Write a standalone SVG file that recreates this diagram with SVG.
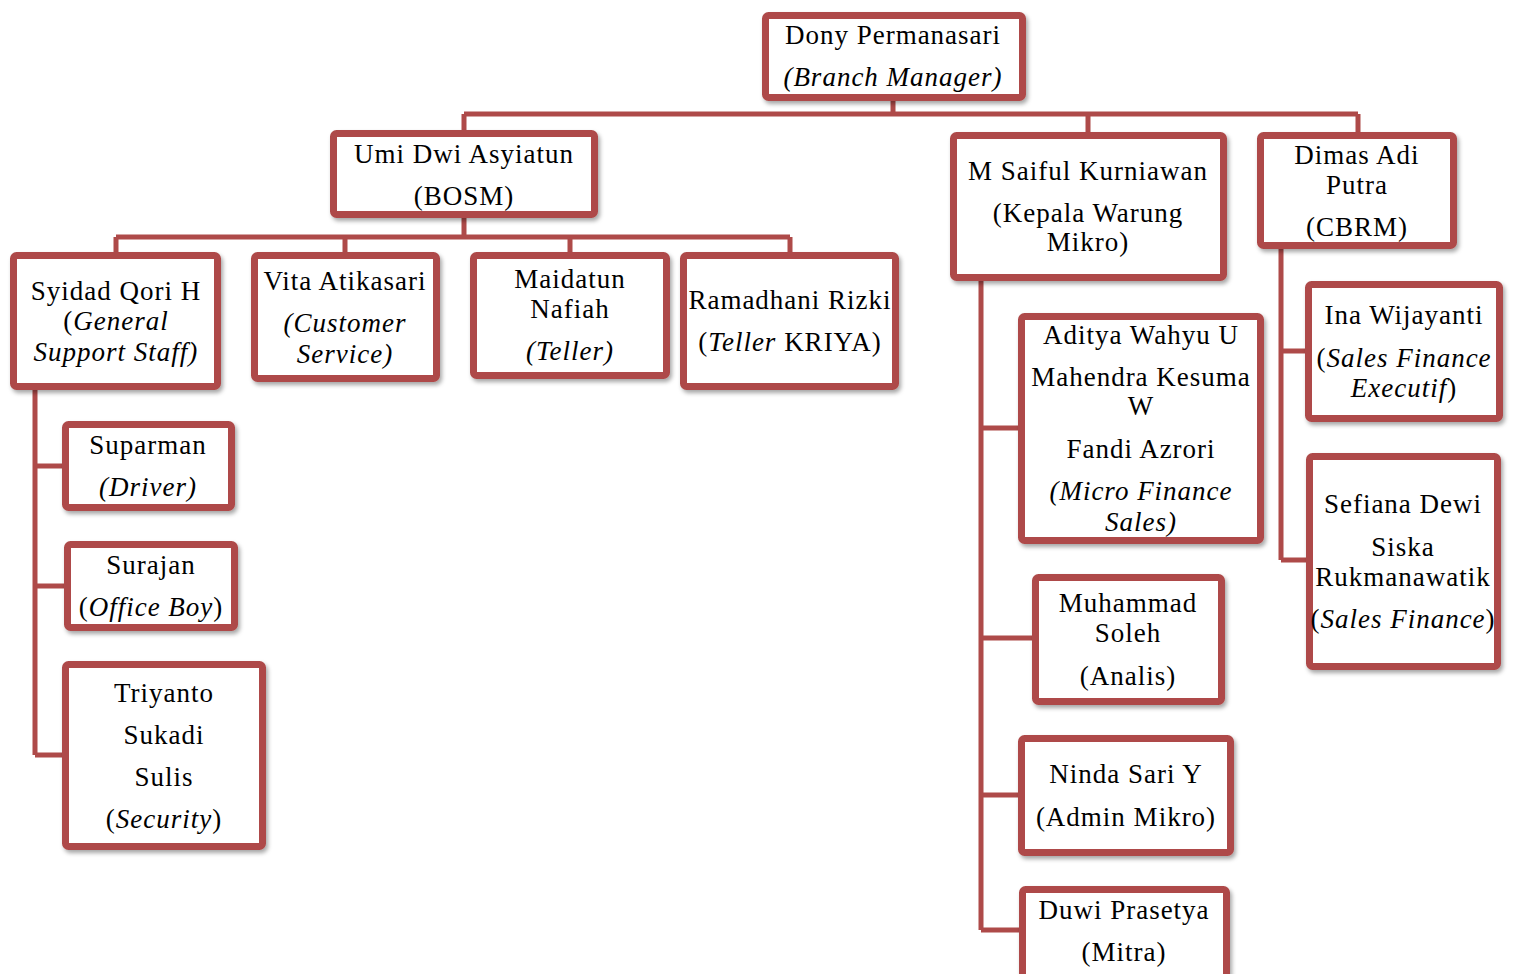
<svg xmlns="http://www.w3.org/2000/svg" width="1513" height="974" viewBox="0 0 1513 974">
<defs>
<filter id="sh" x="-10%" y="-10%" width="120%" height="130%">
<feDropShadow dx="2" dy="3" stdDeviation="2" flood-color="#000" flood-opacity="0.35"/>
</filter>
<style>
.box{fill:#fff;stroke:#ae4a49;stroke-width:7;filter:url(#sh)}
.c{fill:none;stroke:#ae4a49;stroke-width:5}
text{font-family:"Liberation Serif","Times New Roman",serif;font-size:27px;fill:#000;text-anchor:middle;letter-spacing:1px}
.i{font-style:italic;letter-spacing:1px}
</style>
</defs>
<rect width="1513" height="974" fill="#fff"/>
<g id="connectors">
<path class="c" d="M893 101V114M464 114H1358M464 114V130M1088 114V132M1358 114V132"/>
<path class="c" d="M464 218V237M116 237H790M116 237V252M345 237V252M570 237V252M790 237V252"/>
<path class="c" d="M35 390V755M35 466H62M35 586H64M35 755H62"/>
<path class="c" d="M981 281V930M981 428H1018M981 638H1032M981 795H1018M981 930H1019"/>
<path class="c" d="M1281 249V560M1281 351H1305M1281 560H1306"/>
</g>
<g id="dony"><rect class="box" x="765.5" y="15.5" width="257" height="82" rx="3"/>
<text x="893" y="44">Dony Permanasari</text><text x="893" y="86" class="i">(Branch Manager)</text></g>
<g id="umi"><rect class="box" x="333.5" y="133.5" width="261" height="81" rx="3"/>
<text x="464" y="163">Umi Dwi Asyiatun</text><text x="464" y="205">(BOSM)</text></g>
<g id="saiful"><rect class="box" x="953.5" y="135.5" width="270" height="142" rx="3"/>
<text x="1088" y="180">M Saiful Kurniawan</text><text x="1088" y="222">(Kepala Warung</text><text x="1088" y="251">Mikro)</text></g>
<g id="dimas"><rect class="box" x="1260.5" y="135.5" width="193" height="110" rx="3"/>
<text x="1357" y="164">Dimas Adi</text><text x="1357" y="194">Putra</text><text x="1357" y="236">(CBRM)</text></g>
<g id="syidad"><rect class="box" x="13.5" y="255.5" width="204" height="131" rx="3"/>
<text x="116" y="300">Syidad Qori H</text><text x="116" y="330">(<tspan class="i">General</tspan></text><text x="116" y="361" class="i">Support Staff)</text></g>
<g id="vita"><rect class="box" x="254.5" y="255.5" width="182" height="123" rx="3"/>
<text x="345" y="290">Vita Atikasari</text><text x="345" y="332" class="i">(Customer</text><text x="345" y="363" class="i">Service)</text></g>
<g id="maidatun"><rect class="box" x="473.5" y="255.5" width="193" height="120" rx="3"/>
<text x="570" y="288">Maidatun</text><text x="570" y="318">Nafiah</text><text x="570" y="360" class="i">(Teller)</text></g>
<g id="ramadhani"><rect class="box" x="683.5" y="255.5" width="212" height="131" rx="3"/>
<text x="790" y="309">Ramadhani Rizki</text><text x="790" y="351">(<tspan class="i">Teller</tspan> KRIYA)</text></g>
<g id="suparman"><rect class="box" x="65.5" y="424.5" width="166" height="83" rx="3"/>
<text x="148" y="454">Suparman</text><text x="148" y="496" class="i">(Driver)</text></g>
<g id="surajan"><rect class="box" x="67.5" y="544.5" width="167" height="83" rx="3"/>
<text x="151" y="574">Surajan</text><text x="151" y="616">(<tspan class="i">Office Boy</tspan>)</text></g>
<g id="triyanto"><rect class="box" x="65.5" y="664.5" width="197" height="182" rx="3"/>
<text x="164" y="702">Triyanto</text><text x="164" y="744">Sukadi</text><text x="164" y="786">Sulis</text><text x="164" y="828">(<tspan class="i">Security</tspan>)</text></g>
<g id="aditya"><rect class="box" x="1021.5" y="316.5" width="239" height="224" rx="3"/>
<text x="1141" y="344">Aditya Wahyu U</text><text x="1141" y="386">Mahendra Kesuma</text><text x="1141" y="415">W</text><text x="1141" y="458">Fandi Azrori</text><text x="1141" y="500" class="i">(Micro Finance</text><text x="1141" y="531" class="i">Sales)</text></g>
<g id="muhammad"><rect class="box" x="1035.5" y="577.5" width="186" height="124" rx="3"/>
<text x="1128" y="612">Muhammad</text><text x="1128" y="642">Soleh</text><text x="1128" y="685">(Analis)</text></g>
<g id="ninda"><rect class="box" x="1021.5" y="738.5" width="209" height="114" rx="3"/>
<text x="1126" y="783">Ninda Sari Y</text><text x="1126" y="826">(Admin Mikro)</text></g>
<g id="duwi"><rect class="box" x="1022.5" y="889.5" width="204" height="100" rx="3"/>
<text x="1124" y="919">Duwi Prasetya</text><text x="1124" y="961">(Mitra)</text></g>
<g id="ina"><rect class="box" x="1308.5" y="284.5" width="191" height="134" rx="3"/>
<text x="1404" y="324">Ina Wijayanti</text><text x="1404" y="367">(<tspan class="i">Sales Finance</tspan></text><text x="1404" y="397"><tspan class="i">Executif</tspan>)</text></g>
<g id="sefiana"><rect class="box" x="1309.5" y="456.5" width="188" height="210" rx="3"/>
<text x="1403" y="513">Sefiana Dewi</text><text x="1403" y="556">Siska</text><text x="1403" y="586">Rukmanawatik</text><text x="1403" y="628">(<tspan class="i">Sales Finance</tspan>)</text></g>
</svg>
